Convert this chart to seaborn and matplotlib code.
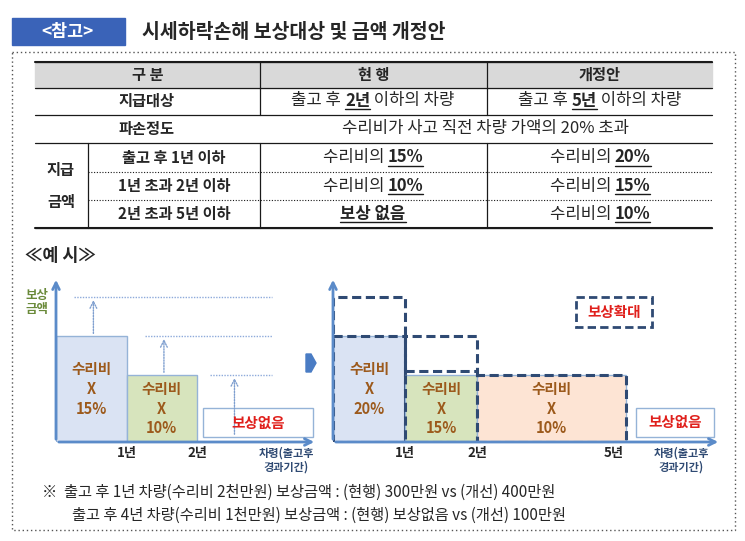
import numpy as np
import matplotlib
matplotlib.use("Agg")
import matplotlib.pyplot as plt
import seaborn as sns
from matplotlib.patches import Rectangle, Polygon

sns.set_theme(style="white")
plt.rcParams['font.family'] = ['Noto Sans CJK KR', 'DejaVu Sans']

# ---- data ----
title = "시세하락손해 보상대상 및 금액 개정안"
tag = "<참고>"
col_headers = ["구 분", "현 행", "개정안"]
period_labels = ["출고 후 1년 이하", "1년 초과 2년 이하", "2년 초과 5년 이하"]
current_rates = [15, 10, 0]          # % of repair cost
proposed_rates = [20, 15, 10]
cur_edges = [0, 1, 2]
new_edges = [0, 1, 2, 5]
year_ticks_left = [1, 2]
year_ticks_right = [1, 2, 5]
notes = ["※  출고 후 1년 차량(수리비 2천만원) 보상금액 : (현행) 300만원 vs (개선) 400만원",
         "출고 후 4년 차량(수리비 1천만원) 보상금액 : (현행) 보상없음 vs (개선) 100만원"]

W, H = 745, 541
fig = plt.figure(figsize=(W/100, H/100), dpi=100)
ov = fig.add_axes([0, 0, 1, 1])
ov.set_xlim(0, W); ov.set_ylim(H, 0); ov.axis('off')

BR = '#9c5a1c'; RED = '#e0201c'; AX = '#5b8bc9'; NAVY = '#2f4a73'

# title
ov.add_patch(Rectangle((12, 18), 113, 27, color='#3a63b8'))
ov.text(68, 32, tag, color='white', fontsize=12.5, fontweight='bold', ha='center', va='center')
ov.text(142, 32, title, fontsize=14, fontweight='bold', ha='left', va='center')
ov.add_patch(Rectangle((12, 52), 723, 478, fill=False, ls=(0, (1, 2)), ec='#555', lw=1))

fig.canvas.draw()
rend = fig.canvas.get_renderer()

def rich(xc, y, segs, fs=11):
    texts = []
    for s, b in segs:
        t = ov.text(0, y, s, fontsize=fs, fontweight='bold' if b else 'normal', ha='left', va='center')
        texts.append((t, b))
    widths = [t.get_window_extent(rend).width for t, _ in texts]
    x = xc - sum(widths)/2
    for (t, b), w in zip(texts, widths):
        t.set_x(x)
        if b:
            ov.plot([x, x+w], [y+8, y+8], color='k', lw=1)
        x += w

# table
rows = [62, 88, 115, 143, 172, 200, 228]
cx = [35, 260, 487, 712]
ov.add_patch(Rectangle((35, 62), 677, 26, color='#d9d9d9'))
for i, h in enumerate(col_headers):
    ov.text((cx[i]+cx[i+1])/2, 75, h, fontsize=11, fontweight='bold', ha='center', va='center')
for yv in rows:
    dotted = yv in (172, 200)
    x0 = 88 if dotted else 35
    ov.plot([x0, 712], [yv, yv], color='k', lw=0.8 if dotted else 0.9,
            ls=(0, (1, 1.5)) if dotted else '-')
ov.plot([35, 712], [62, 62], color='k', lw=1.5)
ov.plot([35, 712], [228, 228], color='k', lw=1.5)
for xv in [260, 487]:
    ov.plot([xv, xv], [62, 115], color='k', lw=0.9)
    ov.plot([xv, xv], [143, 228], color='k', lw=0.9)
ov.plot([88, 88], [143, 228], color='k', lw=0.9)
ov.text(147, 101, "지급대상", fontsize=11, fontweight='bold', ha='center', va='center')
ov.text(147, 129, "파손정도", fontsize=11, fontweight='bold', ha='center', va='center')
ov.text(61, 186, "지급\n\n금액", fontsize=11, fontweight='bold', ha='center', va='center', linespacing=1.0)
rich(373, 101, [("출고 후 ", False), ("2년", True), (" 이하의 차량", False)], 12)
rich(600, 101, [("출고 후 ", False), ("5년", True), (" 이하의 차량", False)], 12)
ov.text(486, 129, "수리비가 사고 직전 차량 가액의 20% 초과", fontsize=12, ha='center', va='center')
for i, lab in enumerate(period_labels):
    yc = (rows[3+i]+rows[4+i])/2
    ov.text(174, yc, lab, fontsize=11, fontweight='bold', ha='center', va='center')
    c = current_rates[i]
    if c > 0:
        rich(373, yc, [("수리비의 ", False), (f"{c}%", True)], 12)
    else:
        rich(373, yc, [("보상 없음", True)], 12)
    rich(600, yc, [("수리비의 ", False), (f"{proposed_rates[i]}%", True)], 12)

ov.text(25, 256, "≪예 시≫", fontsize=12.5, fontweight='bold', ha='left', va='center')

Y0 = 1.41; YT = 22.6
BASE = 442; TOP = 277
# left chart
axL = fig.add_axes([56/W, 1-BASE/H, 261/W, (BASE-TOP)/H])
axL.set_xlim(0, 3.7); axL.set_ylim(Y0, YT)
axL.axis('off')
colsL = ['#dae3f3', '#d7e4bd']
for i in range(2):
    axL.bar(cur_edges[i], current_rates[i]-Y0, width=1, bottom=Y0, align='edge',
            color=colsL[i], ec='#95b3d7', lw=1)
    axL.text(cur_edges[i]+0.5, (current_rates[i]+Y0)/2, "수리비\nX\n" + f"{current_rates[i]}%", color=BR,
             fontsize=10.5, fontweight='bold', ha='center', va='center', linespacing=1.3)
levels = [20, 15, 10]
xs = [0.26, 1.26, 2.18]
for i in range(3):
    axL.plot([xs[i], 3.06], [levels[i], levels[i]], color='#8eaadb', ls=(0, (1, 1)), lw=1)
    base = current_rates[i] if current_rates[i] > 0 else 2.05
    axL.annotate('', xy=(cur_edges[i]+0.53, levels[i]), xytext=(cur_edges[i]+0.53, base),
                 arrowprops=dict(arrowstyle='->', color='#7f9fcf', ls=(0, (1, 1)), lw=1))
axL.add_patch(Rectangle((2.08, 2.05), 1.56, 3.72, fill=False, ec='#95b3d7', lw=1))
axL.text(2.86, 3.9, "보상없음", color=RED, fontsize=10.5, fontweight='bold', ha='center', va='center')
axL.annotate('', xy=(3.7, Y0), xytext=(0, Y0), arrowprops=dict(arrowstyle='->', color=AX, lw=2), annotation_clip=False)
axL.annotate('', xy=(0, YT), xytext=(0, Y0), arrowprops=dict(arrowstyle='->', color=AX, lw=2), annotation_clip=False)
for t in year_ticks_left:
    axL.text(t, Y0-1.4, f"{t}년", fontsize=9.5, fontweight='bold', ha='center', va='center')
ov.text(286, 460, "차령(출고후\n경과기간)", color=NAVY, fontsize=8, fontweight='bold', ha='center', va='center', linespacing=1.15)
ov.text(37, 303, "보상\n금액", color='#6a8a3a', fontsize=9, fontweight='bold', ha='center', va='center', linespacing=1.1)

# arrow between
ov.add_patch(Polygon([[306, 354], [311, 354], [316, 363], [311, 372], [306, 372]], color='#4a7cc4'))

# right chart
fx = lambda x: np.interp(x, [0, 1, 2, 5, 8], [0, 1, 2, 4.07, 6.07])
fxi = lambda u: np.interp(u, [0, 1, 2, 4.07, 6.07], [0, 1, 2, 5, 8])
axR = fig.add_axes([333/W, 1-BASE/H, 388/W, (BASE-TOP)/H])
axR.set_xscale('function', functions=(fx, fxi))
axR.set_xlim(0, 6.98); axR.set_ylim(Y0, YT)
axR.axis('off')
colsR = ['#dae3f3', '#d7e4bd', '#fde4d4']
for i in range(3):
    w = new_edges[i+1]-new_edges[i]
    fillh = current_rates[i] if current_rates[i] > 0 else proposed_rates[i]
    axR.bar(new_edges[i], fillh-Y0, width=w, bottom=Y0, align='edge', color=colsR[i], ec='#95b3d7', lw=1)
    axR.bar(new_edges[i], proposed_rates[i]-Y0, width=w, bottom=Y0, align='edge', fill=False,
            ec=NAVY, lw=2.2, ls=(0, (3, 1.5)))
    axR.text(new_edges[i]+w/2, (min(fillh, proposed_rates[i]) + Y0)/2 if i else (fillh+Y0)/2,
             "수리비\nX\n" + f"{proposed_rates[i]}%", color=BR,
             fontsize=10.5, fontweight='bold', ha='center', va='center', linespacing=1.3)
axR.plot([0, 1], [15, 15], color=NAVY, lw=2.2, ls=(0, (3, 1.5)))
axR.plot([1, 2], [10.5, 10.5], color=NAVY, lw=2.2, ls=(0, (3, 1.5)))
axR.annotate('', xy=(6.98, Y0), xytext=(0, Y0), arrowprops=dict(arrowstyle='->', color=AX, lw=2), annotation_clip=False)
axR.annotate('', xy=(0, YT), xytext=(0, Y0), arrowprops=dict(arrowstyle='->', color=AX, lw=2), annotation_clip=False)
for t in year_ticks_right:
    axR.text(t - (0.25 if t == 5 else 0), Y0-1.4, f"{t}년", fontsize=9.5, fontweight='bold', ha='center', va='center')
ov.text(681, 460, "차령(출고후\n경과기간)", color=NAVY, fontsize=8, fontweight='bold', ha='center', va='center', linespacing=1.15)
ov.add_patch(Rectangle((576, 297), 76, 30, fill=False, ec=NAVY, lw=2, ls=(0, (3, 1.5))))
ov.text(614, 312, "보상확대", color=RED, fontsize=10.5, fontweight='bold', ha='center', va='center')
ov.add_patch(Rectangle((636, 408), 78, 29, fill=False, ec='#95b3d7', lw=1))
ov.text(675, 422, "보상없음", color=RED, fontsize=10.5, fontweight='bold', ha='center', va='center')

ov.text(42, 492, notes[0], fontsize=11, ha='left', va='center')
ov.text(72, 515, notes[1], fontsize=11, ha='left', va='center')

fig.savefig("out.png", dpi=100)
